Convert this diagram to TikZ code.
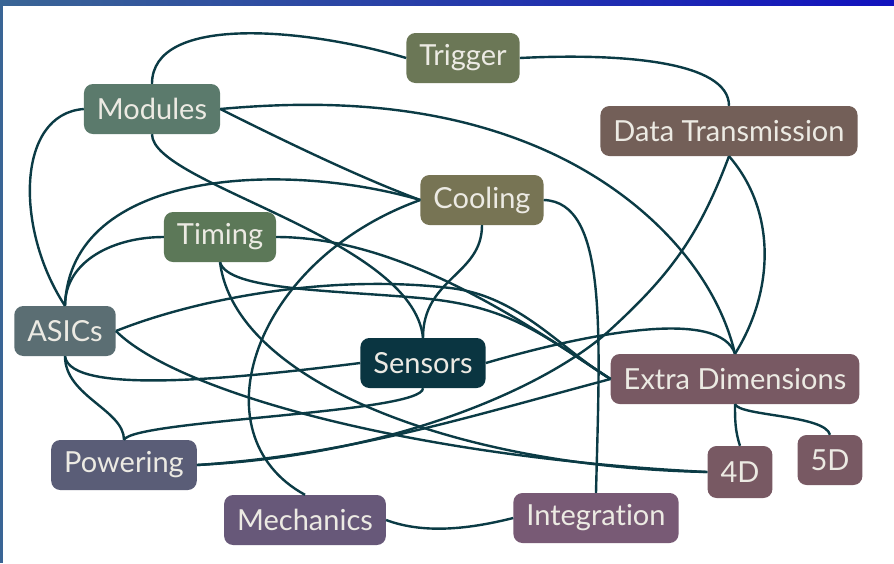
\documentclass[tikz,border=0pt]{standalone}
\usepackage{fontspec}
\setmainfont{Lato}[Ligatures=NoCommon]
\usetikzlibrary{calc}
\definecolor{ink}{HTML}{0B3B45}
\definecolor{chalk}{HTML}{ECEAE3}
\definecolor{rimblue}{HTML}{3A6595}
\definecolor{rimdeep}{HTML}{1212BE}
\definecolor{trigcol}{HTML}{6B7756}
\definecolor{modcol}{HTML}{5B7A6C}
\definecolor{dtxcol}{HTML}{735F58}
\definecolor{coolcol}{HTML}{777454}
\definecolor{timcol}{HTML}{5C7858}
\definecolor{asiccol}{HTML}{5B6E73}
\definecolor{sencol}{HTML}{0A3541}
\definecolor{xdimcol}{HTML}{785963}
\definecolor{powcol}{HTML}{5A5D77}
\definecolor{mechcol}{HTML}{675879}
\definecolor{integcol}{HTML}{785A75}
\tikzset{
  topic/.style={rounded corners=9pt, text=chalk, inner xsep=13pt, inner ysep=0pt,
    minimum height=50pt, font=\fontsize{29pt}{32pt}\selectfont},
  link/.style={draw=ink, line width=2.4pt},
}

\begin{document}
\begin{tikzpicture}[x=1pt, y=-1pt]
    \useasboundingbox (0,0) rectangle (894,563);
    \fill[white] (0,0) rectangle (894,563);
    \fill[rimblue] (0,0) rectangle (3,563);
    \shade[left color=rimblue, right color=rimdeep] (0,0) rectangle (894,5);

    \node[topic, fill=trigcol] (trg) at (463,58) {Trigger};
    \node[topic, fill=modcol] (mod) at (152,109) {Modules};
    \node[topic, fill=dtxcol] (dtx) at (729,131) {Data Transmission};
    \node[topic, fill=coolcol] (cool) at (482,200) {Cooling};
    \node[topic, fill=timcol] (tim) at (220,237) {Timing};
    \node[topic, fill=asiccol] (asic) at (65,331) {ASICs};
    \node[topic, fill=sencol] (sen) at (423,363) {Sensors};
    \node[topic, fill=xdimcol] (xdim) at (735,379) {Extra Dimensions};
    \node[topic, fill=powcol] (pow) at (124,465) {Powering};
    \node[topic, fill=xdimcol, minimum width=64pt, minimum height=52pt] (d4) at (740,472) {4D};
    \node[topic, fill=xdimcol, minimum width=64pt] (d5) at (830,460) {5D};
    \node[topic, fill=mechcol] (mech) at (305,520) {Mechanics};
    \node[topic, fill=integcol] (integ) at (596,518) {Integration};

    \draw[link] (mod.north) .. controls +(0,-70) and +(-100,-30) .. (trg.west);
    \draw[link] (trg.east) .. controls +(100,-5) and +(0,-45) .. (dtx.north);
    \draw[link] (mod.east) .. controls +(110,-10) and +(-100,-43) .. (540,148)
      .. controls +(100,43) and +(-20,-85) .. (xdim.north);
    \draw[link] (mod.east) .. controls +(60,30) and +(-60,-22) .. (cool.west);
    \draw[link] (mod.south) .. controls +(0,50) and +(-10,-100) .. (sen.north);
    \draw[link] (mod.west) .. controls +(-68,5) and +(-50,-76) .. (asic.north);
    \draw[link] (asic.north) .. controls +(5,-136) and +(-137,-40) .. (cool.west);
    \draw[link] (asic.north) .. controls +(0,-45) and +(-50,0) .. (tim.west);
    \draw[link] (tim.east) .. controls +(123,0) and +(-89,-59) .. (xdim.west);
    \draw[link] (asic.east) .. controls +(83,-33) and +(-120,-14) .. (450,288)
      .. controls +(70,8) and +(-49,-29) .. (xdim.west);
    \draw[link] (tim.south) .. controls +(8,28) and +(-90,-8) .. (420,298)
      .. controls +(90,8) and +(-70,-45) .. (xdim.west);
    \draw[link] (tim.south) .. controls +(15,120) and +(-250,-5) .. (d4.west);
    \draw[link] (cool.west) .. controls +(-167,60) and +(-110,-60) .. (mech.north);
    \draw[link] (cool.south) .. controls +(0,50) and +(0,-60) .. (sen.north);
    \draw[link] (cool.east) .. controls +(64,2) and +(4,-162) .. (integ.north);
    \draw[link] (asic.east) .. controls +(60,60) and +(-300,-15) .. (d4.west);
    \draw[link] (asic.south) .. controls +(5,40) and +(-120,15) .. (sen.west);
    \draw[link] (asic.south) .. controls +(0,40) and +(0,-30) .. (pow.north);
    \draw[link] (pow.north) .. controls +(10,-20) and +(0,25) .. (sen.south);
    \draw[link] (pow.east) .. controls +(150,-10) and +(-150,40) .. (xdim.west);
    \draw[link] (sen.east) .. controls +(114,-33) and +(-15,-44) .. (xdim.north);
    \draw[link] (dtx.south) .. controls +(47,54) and +(40,-64) .. (xdim.north);
    \draw[link] (dtx.south) .. controls +(-30,80) and +(60,-55) .. (610,330)
      .. controls +(-60,55) and +(200,-10) .. (pow.east);
    \draw[link] (xdim.south) .. controls +(0,15) and +(-5,-15) .. (d4.north);
    \draw[link] (xdim.south) .. controls +(5,12) and +(-5,-20) .. (d5.north);
    \draw[link] (mech.east) .. controls +(40,15) and +(-40,10) .. (integ.west);
  \end{tikzpicture}
\end{document}
